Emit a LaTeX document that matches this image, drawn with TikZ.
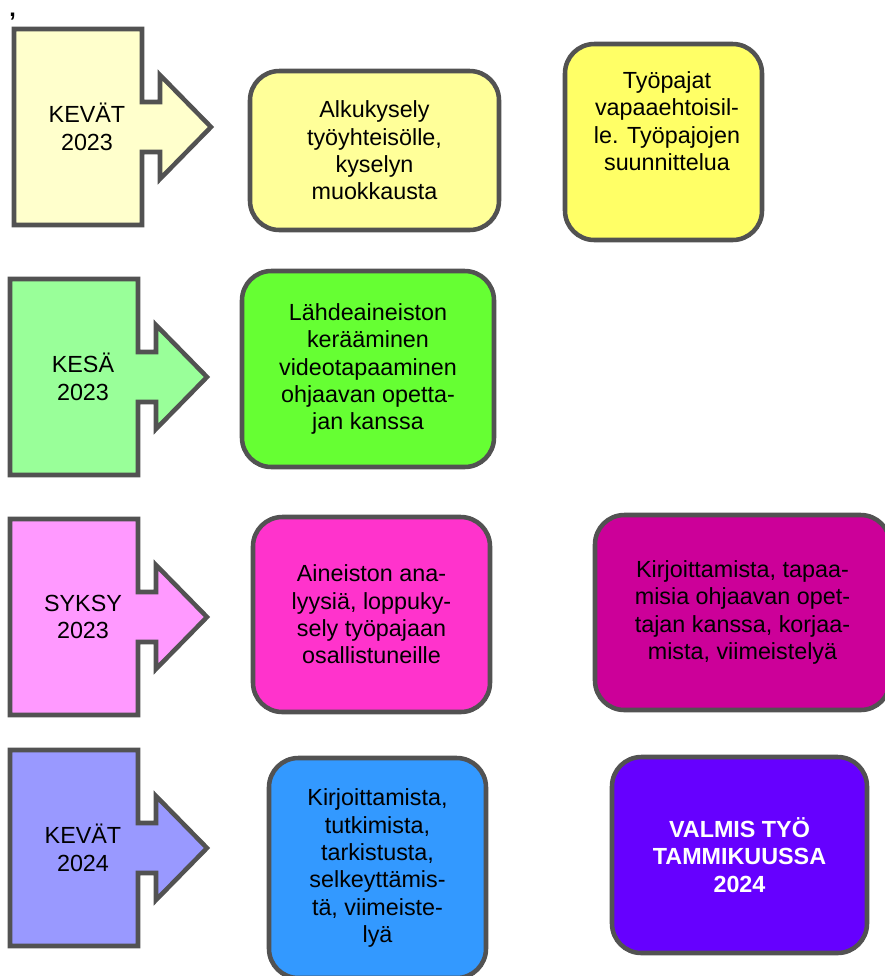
\documentclass[tikz,border=0pt]{standalone}
\usepackage{fontspec}
\setmainfont{Liberation Sans}
\definecolor{reuna}{HTML}{525252}
\definecolor{kevatA}{HTML}{FFFFCC}
\definecolor{kesaA}{HTML}{99FF99}
\definecolor{syksyA}{HTML}{FF99FF}
\definecolor{kevatB}{HTML}{9999FF}
\definecolor{alkuV}{HTML}{FFFF99}
\definecolor{pajaV}{HTML}{FFFF66}
\definecolor{lahdeV}{HTML}{66FF33}
\definecolor{analyysiV}{HTML}{FF33CC}
\definecolor{kirjoitusV}{HTML}{CC0099}
\definecolor{tutkimusV}{HTML}{3399FF}
\definecolor{valmisV}{HTML}{6600FF}

\begin{document}
\begin{tikzpicture}[x=0.75pt,y=-0.75pt,
  teksti/.style={align=center, inner sep=0pt, font=\fontsize{17.5pt}{20.5pt}\selectfont},
  kausi/.style={draw=reuna, line width=3.4pt, line join=miter},
  laatikko/.style={draw=reuna, line width=3.4pt, rounded corners=22pt, teksti}]
  \useasboundingbox (0,0) rectangle (885,976);
  \clip (0,0) rectangle (885,976);
  \node[teksti, anchor=base west, font=\fontsize{17.5pt}{20.5pt}\selectfont\bfseries]
    (pilkku) at (9,16) {,};
  % kaudet
  \foreach \lx/\ty/\vari/\nimi/\kausiteksti in
    {14/127/kevatA/kevat23/{KEVÄT\\2023},
     10/377/kesaA/kesa23/{KESÄ\\2023},
     10/617/syksyA/syksy23/{SYKSY\\2023},
     10/848/kevatB/kevat24/{KEVÄT\\2024}}
  {
    \filldraw[kausi, fill=\vari] (\lx,\ty-98) -- (\lx+128,\ty-98) -- (\lx+128,\ty-25)
      -- (\lx+146,\ty-25) -- (\lx+146,\ty-52) -- (\lx+197,\ty) -- (\lx+146,\ty+52)
      -- (\lx+146,\ty+25) -- (\lx+128,\ty+25) -- (\lx+128,\ty+98) -- (\lx,\ty+98) -- cycle;
    \node[teksti] (\nimi) at (\lx+73,\ty) {\kausiteksti};
  }
  % tehtavat
  \node[laatikko, fill=alkuV, minimum width=186.75pt, minimum height=119.25pt]
    (alku) at (374.5,150.5) {Alkukysely\\työyhteisölle,\\kyselyn\\muokkausta};
  \node[laatikko, fill=pajaV, minimum width=147.75pt, minimum height=147pt]
    (paja) at (663.5,142) {};
  \node[teksti] (pajaTeksti) at (667,121) {Työpajat\\vapaaehtoisil-\\le. Työpajojen\\suunnittelua};
  \node[laatikko, fill=lahdeV, minimum width=189pt, minimum height=147pt]
    (lahde) at (368,369) {Lähdeaineiston\\kerääminen\\videotapaaminen\\ohjaavan opetta-\\jan kanssa};
  \node[laatikko, fill=analyysiV, minimum width=177.75pt, minimum height=146.25pt]
    (analyysi) at (371.5,614.5) {Aineiston ana-\\lyysiä, loppuky-\\sely työpajaan\\osallistuneille};
  \node[laatikko, fill=kirjoitusV, minimum width=221.25pt, minimum height=146.25pt]
    (kirjoitus) at (742.5,612.5) {Kirjoittamista, tapaa-\\misia ohjaavan opet-\\tajan kanssa, korjaa-\\mista, viimeistelyä};
  \node[laatikko, fill=tutkimusV, minimum width=162.75pt, minimum height=165pt]
    (tutkimus) at (377.5,868) {Kirjoittamista,\\tutkimista,\\tarkistusta,\\selkeyttämis-\\tä, viimeiste-\\lyä};
  \node[laatikko, fill=valmisV, minimum width=191.25pt, minimum height=147pt,
    text=white, font=\fontsize{17.5pt}{20.5pt}\selectfont\bfseries]
    (valmis) at (739.5,855) {VALMIS TYÖ\\TAMMIKUUSSA\\2024};
\end{tikzpicture}
\end{document}
